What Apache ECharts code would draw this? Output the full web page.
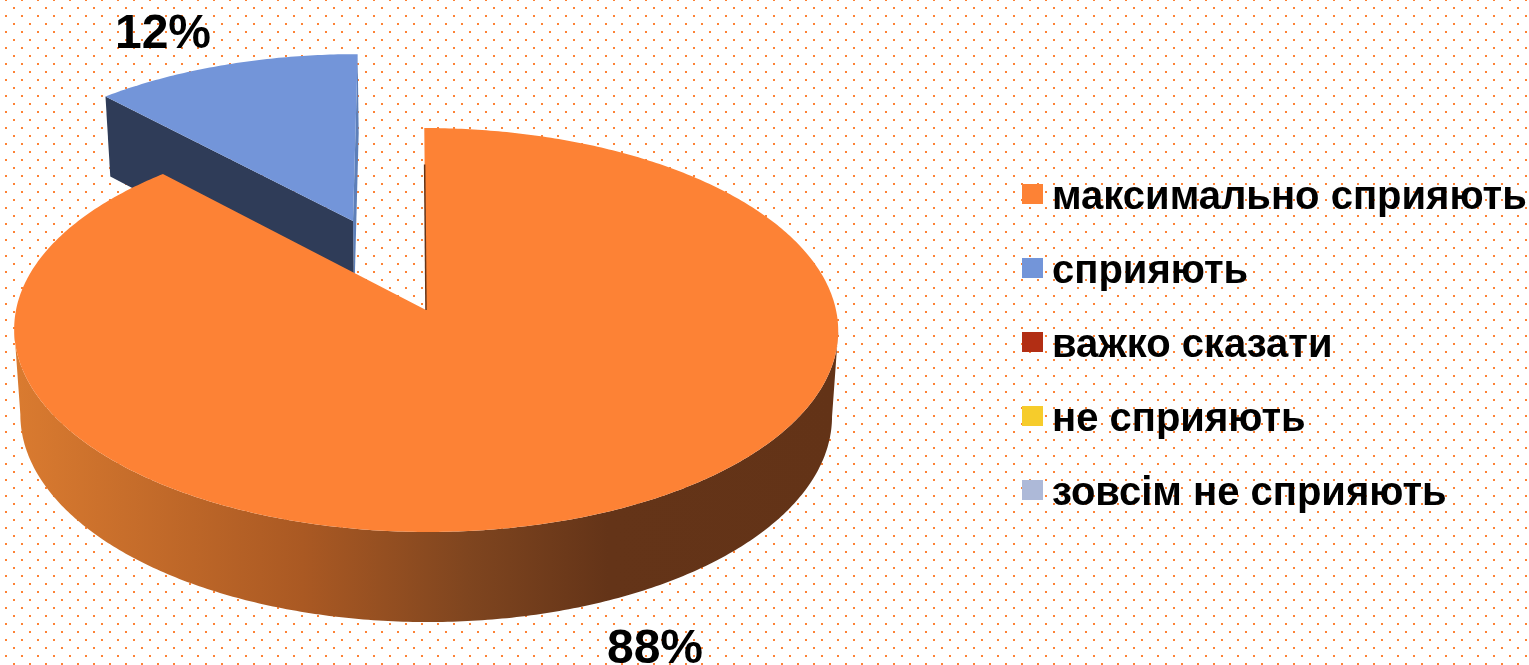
<!DOCTYPE html>
<html>
<head>
<meta charset="utf-8">
<style>
  html, body { margin: 0; padding: 0; background: #fff; }
  #mainChart { width: 1529px; height: 665px; }
</style>
<script src="https://cdn.jsdelivr.net/npm/echarts@6/dist/echarts.min.js"></script>
</head>
<body>
<div id="mainChart"></div>
<script>
const categories = ["максимально сприяють", "сприяють", "важко сказати", "не сприяють", "зовсім не сприяють"];
const shares = [88, 12, 0, 0, 0];
const colors = ["#fd8235", "#7395d9", "#b22e14", "#f6cc2b", "#adb9d8"];
const FONT = '"Liberation Sans", Arial, sans-serif';

// slice pulled out of the pie, as a part of the radius
const explode = [0, 0.5, 0, 0, 0];
const labelAnchor = [[655, 650], [163, 35], null, null, null];

// the fake 3d camera, fitted by eye on the picture
const cam = { cx: 426, cy: 310, a: 410, b: 200, p: 0.099, skew: -1.9, sx: 0.985, sy: 1.023, depth: 85 };

function topPoint(u, v) {
  const d = 1 + cam.p * v;
  return [cam.cx + (cam.a * u + cam.skew * v) / d, cam.cy - (cam.b * v) / d];
}
function basePoint(pt) {
  return [cam.cx + cam.sx * (pt[0] - cam.cx), cam.cy + cam.depth + cam.sy * (pt[1] - cam.cy)];
}

function dotPattern() {
  const c = document.createElement("canvas");
  c.width = 16;
  c.height = 16;
  const g = c.getContext("2d");
  g.fillStyle = "#fff";
  g.fillRect(0, 0, 16, 16);
  g.fillStyle = "#fd8235";
  g.fillRect(13, 7, 2, 2);
  g.fillRect(5, 15, 2, 1);
  g.fillRect(5, 0, 2, 1);
  return c;
}

const sideGradient = {
  type: "linear", x: 14, y: 0, x2: 839, y2: 0, global: true,
  colorStops: [
    { offset: 0, color: "#da7b30" },
    { offset: 0.35, color: "#aa5923" },
    { offset: 0.55, color: "#7f451f" },
    { offset: 0.72, color: "#643418" },
    { offset: 1, color: "#633317" },
  ],
};

const total = shares.reduce((s, v) => s + v, 0);

function poly(points, fill) {
  return { type: "polygon", shape: { points: points }, style: { fill: fill } };
}

function renderSlice(idx) {
  return function (params, api) {
    const value = api.value(0);
    if (!value) {
      return null;
    }
    const before = shares.slice(0, idx).reduce((s, v) => s + v, 0);
    const t0 = (before / total) * 2 * Math.PI;
    const t1 = ((before + value) / total) * 2 * Math.PI;
    const mid = (t0 + t1) / 2;
    const ou = explode[idx] * Math.sin(mid);
    const ov = explode[idx] * Math.cos(mid);

    const apex = topPoint(ou, ov);
    const arc = [];
    const steps = Math.ceil((t1 - t0) * 90);
    for (let i = 0; i <= steps; i++) {
      const t = t0 + ((t1 - t0) * i) / steps;
      arc.push(topPoint(ou + Math.sin(t), ov + Math.cos(t)));
    }
    const children = [];

    // outer wall only for slices that reach the front of the pie,
    // from the rightmost point of the rim round to the leftmost one
    if (t0 < 1.5 * Math.PI && t1 > 0.5 * Math.PI) {
      const xs = arc.map((p) => p[0]);
      const from = xs.indexOf(Math.max(...xs));
      const to = xs.indexOf(Math.min(...xs));
      const front = arc.slice(from, to + 1);
      children.push(poly(front.concat(front.map(basePoint).reverse()), sideGradient));
    }
    if (explode[idx] > 0) {
      const first = arc[0];
      const last = arc[arc.length - 1];
      children.push(poly([last, apex, basePoint(apex), basePoint(last)], "#5d7fb8"));
      children.push(poly([first, apex, basePoint(apex), basePoint(first)], "#2f3c58"));
    }
    children.push(poly([apex].concat(arc), colors[idx]));

    if (explode[idx] === 0) {
      // inner edge seen by the gap
      const tip = arc[0];
      children.push({
        type: "line",
        shape: { x1: apex[0], y1: apex[1], x2: apex[0] + (tip[0] - apex[0]) * 0.8, y2: apex[1] + (tip[1] - apex[1]) * 0.8 },
        style: { stroke: "#643418", lineWidth: 1.5 },
      });
    }

    if (labelAnchor[idx]) {
      children.push({
        type: "text",
        x: labelAnchor[idx][0],
        y: labelAnchor[idx][1],
        style: {
          text: value + "%",
          font: "bold 48px " + FONT,
          fill: "#000",
          align: "center",
          verticalAlign: "middle",
        },
      });
    }
    return { type: "group", children: children };
  };
}

const myChart = echarts.init(document.getElementById("mainChart"), null, { renderer: "canvas" });
const option = {
  animation: false,
  backgroundColor: { image: dotPattern(), repeat: "repeat" },
  legend: {
    orient: "vertical",
    left: 1022,
    top: 178,
    itemWidth: 21,
    itemHeight: 20,
    itemGap: 34,
    padding: 0,
    icon: "rect",
    selectedMode: false,
    data: categories,
    formatter: "{t|{name}}",
    textStyle: {
      rich: {
        t: { fontFamily: FONT, fontWeight: "bold", fontSize: 40, color: "#000", padding: [8, 0, 0, 4] },
      },
    },
  },
  series: categories.map((name, idx) => ({
    name: name,
    type: "custom",
    coordinateSystem: "none",
    // pulled out slices go behind the rest
    z: explode[idx] > 0 ? 1 : 2,
    silent: true,
    itemStyle: { color: colors[idx] },
    data: [[shares[idx]]],
    renderItem: renderSlice(idx),
  })),
};
myChart.setOption(option);
</script>
</body>
</html>
